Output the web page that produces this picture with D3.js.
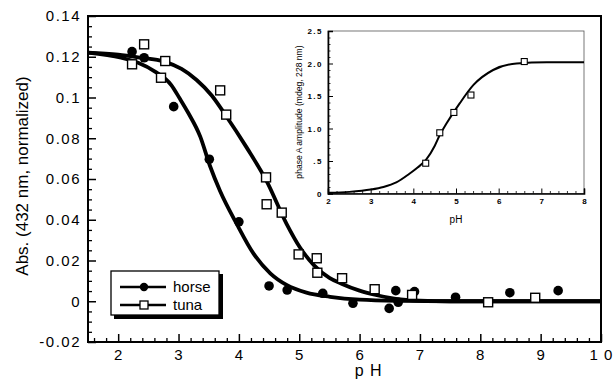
<!DOCTYPE html>
<html>
<head>
<meta charset="utf-8">
<script src="https://cdn.jsdelivr.net/npm/d3@7"></script>
<style>
  body { margin: 0; background: #fff; }
  svg { font-family: "Liberation Sans", Arial, sans-serif; }
</style>
</head>
<body>
<div id="chart"></div>
<script>
// main plot: horse / tuna absorbance vs pH
const horsePH  = [2.23, 2.43, 2.92, 3.51, 4.0, 4.5, 4.8, 5.39, 5.89, 6.49, 6.6, 6.64, 6.91, 7.59, 8.49, 9.29];
const horseAbs = [0.1225, 0.1195, 0.0955, 0.0697, 0.039, 0.0075, 0.0055, 0.0039, -0.001, -0.0035, 0.0052, -0.0005, 0.0047, 0.002, 0.0042, 0.0052];
const tunaPH  = [2.43, 2.23, 2.78, 2.71, 3.69, 3.79, 4.45, 4.46, 4.71, 4.99, 5.29, 5.3, 5.71, 6.25, 6.87, 8.13, 8.91];
const tunaAbs = [0.1261, 0.1163, 0.1179, 0.1097, 0.1035, 0.0916, 0.0608, 0.0476, 0.0435, 0.023, 0.0211, 0.014, 0.0113, 0.0059, 0.0031, -0.0005, 0.0017];

// fitted curves
const horseFitPH  = [1.5, 2.05, 2.33, 2.61, 2.88, 3.02, 3.16, 3.36, 3.52, 3.69, 3.96, 4.24, 4.52, 4.79, 5.12, 5.51, 6.0, 6.7, 7.5, 10];
const horseFitAbs = [0.122, 0.1195, 0.117, 0.1127, 0.1061, 0.0995, 0.0925, 0.0808, 0.0665, 0.054, 0.0382, 0.0235, 0.0137, 0.008, 0.0042, 0.0022, 0.0008, 0.0002, 0, 0];
const tunaFitPH  = [1.5, 2.0, 2.33, 2.78, 3.05, 3.3, 3.55, 3.78, 4.13, 4.46, 4.79, 5.01, 5.25, 5.5, 5.71, 6.0, 6.25, 6.6, 7.0, 7.5, 10];
const tunaFitAbs = [0.122, 0.121, 0.1197, 0.1175, 0.114, 0.1086, 0.101, 0.0913, 0.0754, 0.059, 0.038, 0.0265, 0.0175, 0.0115, 0.0085, 0.0052, 0.0032, 0.0012, 0.0003, 0, 0];

// inset: phase A amplitude
const insetPH  = [4.29, 4.62, 4.95, 5.35, 6.6];
const insetAmp = [0.466, 0.934, 1.247, 1.515, 2.03];
const insetFitPH  = [2.0, 2.5, 3.0, 3.3, 3.6, 3.9, 4.1, 4.3, 4.5, 4.62, 4.78, 5.09, 5.41, 5.87, 6.42, 7.13, 8.0];
const insetFitAmp = [0.01, 0.025, 0.06, 0.1, 0.17, 0.3, 0.4, 0.52, 0.73, 0.9, 1.08, 1.39, 1.67, 1.9, 2.0, 2.02, 2.02];

const xTicks = [2, 3, 4, 5, 6, 7, 8, 9, 10];
const xTickLabels = ["2", "3", "4", "5", "6", "7", "8", "9", "1 0"];
const yTicks = [-0.02, 0, 0.02, 0.04, 0.06, 0.08, 0.1, 0.12, 0.14];
const yTickLabels = ["-0.02", "0", "0.02", "0.04", "0.06", "0.08", "0.1", "0.12", "0.14"];
const insetXTicks = [2, 3, 4, 5, 6, 7, 8];
const insetYTicks = [0, 0.5, 1, 1.5, 2, 2.5];
const insetYTickLabels = ["0", ".5", "1.0", "1.5", "2.0", "2.5"];

const width = 615, height = 381;
const svg = d3.select("#chart").append("svg")
    .attr("width", width)
    .attr("height", height);

const x = d3.scaleLinear().domain([1.5, 10]).range([88, 601]);
const y = d3.scaleLinear().domain([-0.02, 0.14]).range([342, 16]);

// minor ticks
const xMinor = d3.range(16, 100).map(v => v / 10).filter(v => v % 1 !== 0 && Math.round(v * 10) % 2 === 0);
const yMinor = d3.range(-4, 29).map(v => v * 0.005).filter(v => Math.abs(v / 0.02 - Math.round(v / 0.02)) > 1e-6);

svg.append("g")
    .attr("transform", `translate(0,${y(-0.02)})`)
    .call(d3.axisBottom(x).tickValues(xMinor).tickFormat("").tickSize(-4))
    .call(g => g.select(".domain").remove())
    .selectAll("line").attr("stroke-width", 1.3);
svg.append("g")
    .attr("transform", `translate(${x(1.5)},0)`)
    .call(d3.axisLeft(y).tickValues(yMinor).tickFormat("").tickSize(-4))
    .call(g => g.select(".domain").remove())
    .selectAll("line").attr("stroke-width", 1.3);

const xAxis = svg.append("g")
    .attr("transform", `translate(0,${y(-0.02)})`)
    .call(d3.axisBottom(x).tickValues(xTicks).tickFormat((d, i) => xTickLabels[i]).tickSize(-8).tickPadding(7));
xAxis.select(".domain").remove();
xAxis.selectAll("line").attr("stroke-width", 1.5);
xAxis.selectAll("text")
    .attr("font-size", 15)
    .attr("letter-spacing", "1px")
    .attr("fill", "#000");

const yAxis = svg.append("g")
    .attr("transform", `translate(${x(1.5)},0)`)
    .call(d3.axisLeft(y).tickValues(yTicks).tickFormat((d, i) => yTickLabels[i]).tickSize(-8).tickPadding(7));
yAxis.select(".domain").remove();
yAxis.selectAll("line").attr("stroke-width", 1.5);
yAxis.selectAll("text")
    .attr("font-size", 15)
    .attr("letter-spacing", "1.5px")
    .attr("fill", "#000");

// frame
svg.append("rect")
    .attr("x", x(1.5)).attr("y", y(0.14))
    .attr("width", x(10) - x(1.5)).attr("height", y(-0.02) - y(0.14))
    .attr("fill", "none").attr("stroke", "#000").attr("stroke-width", 2);

svg.append("text")
    .attr("x", x(6.15)).attr("y", 376)
    .attr("text-anchor", "middle")
    .attr("font-size", 16)
    .attr("letter-spacing", "1px")
    .text("p H");

svg.append("text")
    .attr("transform", `translate(28,176) rotate(-90)`)
    .attr("text-anchor", "middle")
    .attr("font-size", 17)
    .text("Abs. (432 nm, normalized)");

// fitted curves
const fitLine = d3.line().x(d => x(d[0])).y(d => y(d[1])).curve(d3.curveMonotoneX);
svg.append("path")
    .datum(horseFitPH.map((v, i) => [v, horseFitAbs[i]]))
    .attr("d", fitLine)
    .attr("fill", "none").attr("stroke", "#000").attr("stroke-width", 3.8);
svg.append("path")
    .datum(tunaFitPH.map((v, i) => [v, tunaFitAbs[i]]))
    .attr("d", fitLine)
    .attr("fill", "none").attr("stroke", "#000").attr("stroke-width", 3.8);

// data points
svg.selectAll("circle.horse")
    .data(horsePH.map((v, i) => [v, horseAbs[i]]))
    .join("circle")
    .attr("class", "horse")
    .attr("cx", d => x(d[0]))
    .attr("cy", d => y(d[1]))
    .attr("r", 4.8)
    .attr("fill", "#000");
svg.selectAll("rect.tuna")
    .data(tunaPH.map((v, i) => [v, tunaAbs[i]]))
    .join("rect")
    .attr("class", "tuna")
    .attr("x", d => x(d[0]) - 4.5)
    .attr("y", d => y(d[1]) - 4.5)
    .attr("width", 9).attr("height", 9)
    .attr("fill", "#fff").attr("stroke", "#000").attr("stroke-width", 1.4);

// legend
const legend = svg.append("g").attr("transform", "translate(111,271)");
legend.append("rect")
    .attr("x", 3).attr("y", 3).attr("width", 109).attr("height", 45)
    .attr("fill", "#000");
legend.append("rect")
    .attr("x", 0).attr("y", 0).attr("width", 108).attr("height", 44)
    .attr("fill", "#fff").attr("stroke", "#000").attr("stroke-width", 1.3);
[["horse", 16], ["tuna", 34]].forEach(([name, ly]) => {
    legend.append("line")
        .attr("x1", 9).attr("x2", 55).attr("y1", ly).attr("y2", ly)
        .attr("stroke", "#000").attr("stroke-width", 2.6);
    if (name === "horse") {
        legend.append("circle").attr("cx", 33).attr("cy", ly).attr("r", 4.2).attr("fill", "#000");
    } else {
        legend.append("rect").attr("x", 29).attr("y", ly - 4).attr("width", 8).attr("height", 8)
            .attr("fill", "#fff").attr("stroke", "#000").attr("stroke-width", 1.3);
    }
    legend.append("text")
        .attr("x", 62).attr("y", ly + 5)
        .attr("font-size", 15)
        .text(name);
});

// inset
const ix = d3.scaleLinear().domain([2, 8]).range([328, 584]);
const iy = d3.scaleLinear().domain([0, 2.5]).range([193.5, 31]);
const inset = svg.append("g");

inset.append("rect")
    .attr("x", ix(2)).attr("y", iy(2.5))
    .attr("width", ix(8) - ix(2)).attr("height", iy(0) - iy(2.5))
    .attr("fill", "#fff").attr("stroke", "#555").attr("stroke-width", 0.8);

const ixMinor = d3.range(21, 80).filter(v => v % 10 !== 0 && v % 2 === 0).map(v => v / 10);
const iyMinor = d3.range(1, 25).filter(v => v % 5 !== 0).map(v => v / 10);
inset.append("g")
    .attr("transform", `translate(0,${iy(0)})`)
    .call(d3.axisBottom(ix).tickValues(ixMinor).tickFormat("").tickSize(-2.5))
    .call(g => g.select(".domain").remove())
    .selectAll("line").attr("stroke-width", 0.8);
inset.append("g")
    .attr("transform", `translate(${ix(2)},0)`)
    .call(d3.axisLeft(iy).tickValues(iyMinor).tickFormat("").tickSize(-2.5))
    .call(g => g.select(".domain").remove())
    .selectAll("line").attr("stroke-width", 0.8);

const ixAxis = inset.append("g")
    .attr("transform", `translate(0,${iy(0)})`)
    .call(d3.axisBottom(ix).tickValues(insetXTicks).tickSize(-5).tickPadding(5).tickFormat(d3.format("d")));
ixAxis.select(".domain").attr("stroke-width", 1.6);
ixAxis.selectAll("text").attr("font-size", 8).attr("font-weight", "bold").attr("fill", "#000");

const iyAxis = inset.append("g")
    .attr("transform", `translate(${ix(2)},0)`)
    .call(d3.axisLeft(iy).tickValues(insetYTicks).tickSize(-5).tickPadding(5).tickFormat((d, i) => insetYTickLabels[i]));
iyAxis.select(".domain").attr("stroke-width", 1.6);
iyAxis.selectAll("text").attr("font-size", 8).attr("font-weight", "bold").attr("fill", "#000").attr("letter-spacing", "1.5px");

inset.append("text")
    .attr("x", ix(5)).attr("y", 223)
    .attr("text-anchor", "middle")
    .attr("font-size", 10)
    .text("pH");
inset.append("text")
    .attr("transform", `translate(302,112) rotate(-90)`)
    .attr("text-anchor", "middle")
    .attr("font-size", 8.6)
    .text("phase A amplitude (mdeg, 228 nm)");

inset.append("path")
    .datum(insetFitPH.map((v, i) => [v, insetFitAmp[i]]))
    .attr("d", d3.line().x(d => ix(d[0])).y(d => iy(d[1])).curve(d3.curveMonotoneX))
    .attr("fill", "none").attr("stroke", "#000").attr("stroke-width", 2);

inset.selectAll("rect.pt")
    .data(insetPH.map((v, i) => [v, insetAmp[i]]))
    .join("rect")
    .attr("class", "pt")
    .attr("x", d => ix(d[0]) - 3)
    .attr("y", d => iy(d[1]) - 3)
    .attr("width", 6).attr("height", 6)
    .attr("fill", "#fff").attr("stroke", "#000").attr("stroke-width", 1.1);
</script>
</body>
</html>
